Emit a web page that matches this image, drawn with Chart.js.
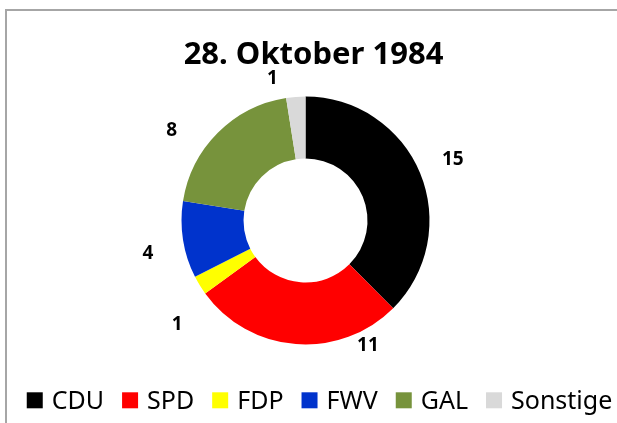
<!DOCTYPE html>
<html>
<head>
<meta charset="utf-8">
<script src="https://cdn.jsdelivr.net/npm/chart.js@4"></script>
<style>
  html, body { margin: 0; padding: 0; background: #fff; }
  #wrap { position: relative; width: 617px; height: 423px; overflow: hidden; }
  #frame { position: absolute; left: 5px; top: 9px; width: 700px; height: 500px;
           border-left: 2px solid #a6a6a6; border-top: 2px solid #a6a6a6; }
  #seats { position: absolute; left: 0; top: 0; }
</style>
</head>
<body>
<div id="wrap">
  <div id="frame"></div>
  <canvas id="seats" width="617" height="423"></canvas>
</div>
<script>
var parties = ["CDU", "SPD", "FDP", "FWV", "GAL", "Sonstige"];
var seats = [15, 11, 1, 4, 8, 1];
var partyColors = ["#000000", "#ff0000", "#ffff00", "#0033cc", "#77933c", "#d9d9d9"];
var chartTitle = "28. Oktober 1984";

var FONT = "'Noto Sans', 'Open Sans', sans-serif";

// Excel-style "outside end" labels: angle nudge (deg) and gap beyond the ring
var labelNudge = [0, -31, -7.5, -3, -11, -8.6];
var labelGap = [35.5, 16, 41, 37, 37.5, 22];

var outsideLabels = {
  id: "outsideLabels",
  afterDatasetsDraw: function(chart) {
    var ctx = chart.ctx;
    var meta = chart.getDatasetMeta(0);
    ctx.save();
    ctx.font = "bold 19px " + FONT;
    ctx.fillStyle = "#000";
    ctx.textAlign = "center";
    ctx.textBaseline = "middle";
    meta.data.forEach(function(arc, i) {
      var p = arc.getProps(["x", "y", "startAngle", "endAngle", "outerRadius"], true);
      var mid = (p.startAngle + p.endAngle) / 2 + labelNudge[i] * Math.PI / 180;
      var r = p.outerRadius + labelGap[i];
      ctx.fillText(String(seats[i]), p.x + Math.cos(mid) * r, p.y + Math.sin(mid) * r);
    });
    ctx.restore();
  }
};

// title and legend drawn by hand so their spacing can follow the Excel original
var titleAndLegend = {
  id: "titleAndLegend",
  afterDraw: function(chart) {
    var ctx = chart.ctx;
    ctx.save();
    ctx.fillStyle = "#000";
    ctx.font = "bold 31px " + FONT;
    ctx.textAlign = "center";
    ctx.textBaseline = "alphabetic";
    ctx.fillText(chartTitle, 313.5, 64);

    var items = chart.legend ? chart.legend.legendItems : [];
    ctx.font = "25px " + FONT;
    ctx.textAlign = "left";
    var box = 16, gapText = 9, gapItem = 18;
    var total = 0;
    items.forEach(function(it, i) {
      total += box + gapText + ctx.measureText(it.text).width + (i ? gapItem : 0);
    });
    var x = 319.5 - total / 2;
    items.forEach(function(it) {
      ctx.fillStyle = it.fillStyle;
      ctx.fillRect(x, 392.3, box, box);
      x += box + gapText;
      ctx.fillStyle = "#000";
      ctx.fillText(it.text, x, 409.3);
      x += ctx.measureText(it.text).width + gapItem;
    });
    ctx.restore();
  }
};

new Chart(document.getElementById("seats"), {
  type: "doughnut",
  data: {
    labels: parties,
    datasets: [{
      data: seats,
      backgroundColor: partyColors,
      borderWidth: 0,
      hoverBorderWidth: 0,
      hoverOffset: 0
    }]
  },
  options: {
    responsive: false,
    animation: false,
    radius: 124,
    cutout: "50%",
    layout: { padding: { left: 0, right: 6, top: 20, bottom: 2 } },
    plugins: {
      tooltip: { enabled: false },
      title: { display: false },
      legend: { display: false }
    }
  },
  plugins: [outsideLabels, titleAndLegend]
});
</script>
</body>
</html>
